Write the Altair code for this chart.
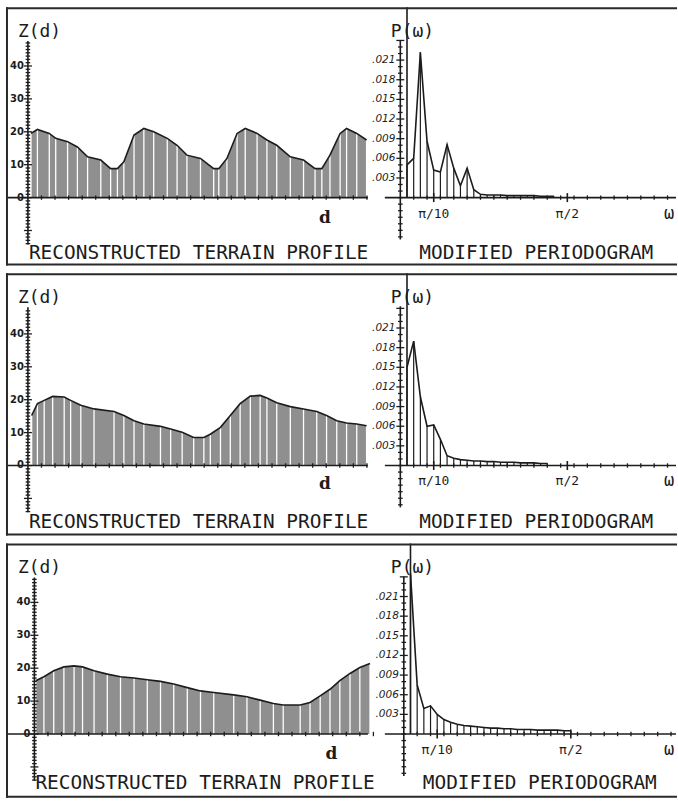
import altair as alt
import pandas as pd

# ---------------- values ----------------
# Reconstructed terrain profiles: distance d (0..100 across the plot) and height Z(d)
prof1_d = [0.9, 2.8, 6.3, 8.2, 11.7, 14.6, 17.6, 21.5, 24.4, 26.4, 28.3, 31.3, 34.2, 37.1, 41.1, 44.0, 46.9, 50.9,
           54.8, 56.3, 58.7, 61.7, 64.1, 67.6, 70.5, 73.4, 77.4, 81.3, 84.7, 86.7, 89.1, 92.1, 94.0, 97.0, 99.9]
prof1_z = [19.5, 20.7, 19.5, 18.0, 17.0, 15.4, 12.4, 11.4, 8.8, 8.8, 10.9, 19.0, 21.0, 20.0, 18.0, 15.9, 12.9, 11.9,
           8.8, 8.8, 11.9, 19.5, 21.0, 19.5, 17.5, 15.9, 12.4, 11.4, 8.8, 8.8, 12.9, 19.5, 21.0, 19.5, 17.5]

prof2_d = [1.1, 2.8, 4.8, 7.3, 10.7, 12.6, 15.6, 19.5, 25.4, 28.3, 31.3, 34.2, 39.1, 42.1, 45.5, 48.9, 51.9,
           53.8, 56.8, 59.7, 62.6, 65.6, 68.5, 70.5, 73.4, 77.4, 81.3, 85.2, 88.1, 91.1, 94.0, 97.0, 99.9]
prof2_z = [15.2, 18.8, 19.8, 21.0, 20.8, 19.8, 18.3, 17.2, 16.4, 15.2, 13.6, 12.6, 11.9, 11.1, 10.1, 8.5, 8.5,
           9.5, 11.6, 15.2, 18.8, 21.1, 21.3, 20.5, 19.1, 17.9, 17.2, 16.4, 15.2, 13.6, 12.9, 12.6, 12.1]

prof3_d = [0.4, 2.8, 5.7, 8.7, 11.7, 14.2, 17.6, 21.5, 25.4, 29.4, 33.3, 37.2, 41.1, 45.1, 49.0, 52.9, 58.8,
           62.7, 66.6, 70.5, 73.4, 78.4, 81.3, 84.3, 87.2, 90.1, 93.1, 96.0, 99.0]
prof3_z = [16.2, 17.4, 19.2, 20.4, 20.7, 20.4, 19.2, 18.2, 17.4, 17.0, 16.5, 16.0, 15.2, 14.1, 13.1, 12.6, 11.9,
           11.3, 10.3, 9.3, 8.8, 8.8, 9.6, 11.6, 13.6, 16.2, 18.4, 20.2, 21.4]

# Modified periodograms: frequency (in units of pi) and P(omega)
freq = [0.02, 0.04, 0.06, 0.08, 0.10, 0.12, 0.14, 0.16, 0.18, 0.20, 0.22, 0.24, 0.26,
        0.28, 0.30, 0.32, 0.34, 0.36, 0.38, 0.40, 0.42, 0.44, 0.46, 0.48, 0.50]
per1 = [0.0050, 0.0060, 0.0222, 0.0086, 0.0042, 0.0039, 0.0081, 0.0045, 0.0018, 0.0045, 0.0012, 0.0005,
        0.0004, 0.0004, 0.0004, 0.0003, 0.0003, 0.0003, 0.0003, 0.0003, 0.0002, 0.0002, 0.0002]
per2 = [0.0150, 0.0190, 0.0105, 0.0060, 0.0062, 0.0040, 0.0015, 0.0011, 0.0009, 0.0008, 0.0007, 0.0007,
        0.0006, 0.0006, 0.0005, 0.0005, 0.0005, 0.0004, 0.0004, 0.0004, 0.0003, 0.0003]
per3 = [0.0245, 0.0075, 0.0039, 0.0043, 0.0030, 0.0022, 0.0018, 0.0015, 0.0013, 0.0012, 0.0011, 0.0010,
        0.0009, 0.0009, 0.0008, 0.0008, 0.0007, 0.0007, 0.0007, 0.0006, 0.0006, 0.0006, 0.0006, 0.0005, 0.0005]
spike = 0.06  # off-scale low-frequency line, clipped at the box top

z_tick_values = [0, 10, 20, 30, 40]
z_tick_labels = ["0", "10", "20", "30", "40"]
p_tick_values = [0.003, 0.006, 0.009, 0.012, 0.015, 0.018, 0.021]
p_tick_labels = [".003", ".006", ".009", ".012", ".015", ".018", ".021"]
w_tick_values = [0.1, 0.5]
w_tick_labels = ["\u03c0/10", "\u03c0/2"]

left_title = "RECONSTRUCTED TERRAIN PROFILE"
right_title = "MODIFIED PERIODOGRAM"

# ---------------- layout (pixels) ----------------
W = 673
PX_D = 3.4     # px per d unit
PX_Z = 3.3     # px per Z unit
PX_W = 335.0   # px per pi
PX_P = 6567.0  # px per unit of P
INK = "#1c1c1c"
MONO = "DejaVu Sans Mono"

rows = [
    dict(H=259, Lo=27.0, Ro=400.5, b=191.0, tb=253.0, prof=(prof1_d, prof1_z), per=per1),
    dict(H=263, Lo=27.0, Ro=400.5, b=192.7, tb=255.0, prof=(prof2_d, prof2_z), per=per2),
    dict(H=255, Lo=33.5, Ro=404.0, b=191.0, tb=246.0, prof=(prof3_d, prof3_z), per=per3),
]


def X(f, s):
    return alt.X(f, type="quantitative", scale=s, axis=None)


def Y(f, s):
    return alt.Y(f, type="quantitative", scale=s, axis=None)


def segs_chart(df, xs, ys):
    return alt.Chart(df).mark_rule(color=INK).encode(
        x=X("x1", xs), x2=alt.X2("x2"), y=Y("y1", ys), y2=alt.Y2("y2"),
        strokeWidth=alt.StrokeWidth("w:Q", scale=None))


def text_chart(df, xs, ys, **kw):
    return alt.Chart(df).mark_text(color=INK, **kw).encode(x=X("x", xs), y=Y("y", ys), text="t:N")


def make_row(p):
    H, b = p["H"], p["b"]
    lo, ro = p["Lo"] - 5, p["Ro"] - 5
    xl = alt.Scale(domain=[-lo / PX_D, (W - lo) / PX_D], nice=False, zero=False)
    yl = alt.Scale(domain=[-(H - b) / PX_Z, b / PX_Z], nice=False, zero=False)
    xr = alt.Scale(domain=[-ro / PX_W, (W - ro) / PX_W], nice=False, zero=False)
    yr = alt.Scale(domain=[-(H - b) / PX_P, b / PX_P], nice=False, zero=False)
    L = lambda real: (real - p["Lo"]) / PX_D
    Zy = lambda rel: (b - rel) / PX_Z
    R = lambda real: (real - p["Ro"]) / PX_W
    Py = lambda rel: (b - rel) / PX_P

    # ---- left: terrain profile ----
    dvals, zvals = p["prof"]
    prof = pd.DataFrame({"d": dvals, "z": zvals, "z0": 0.0})
    area = alt.Chart(prof).mark_area(color="#8f8f8f", interpolate="linear").encode(
        x=X("d", xl), y=Y("z", yl), y2=alt.Y2("z0"))
    gaps = alt.Chart(prof).mark_rule(color="white", strokeWidth=1.3).encode(
        x=X("d", xl), y=Y("z0", yl), y2=alt.Y2("z"))
    outline = alt.Chart(prof).mark_line(color=INK, strokeWidth=1.6, interpolate="linear").encode(
        x=X("d", xl), y=Y("z", yl))

    segs = [(L(5), L(368), 0, 0, 1.6), (0, 0, Zy(34), Zy(b + 47), 1.6)]
    for v in range(-14, 48):
        h = 4.0 if v % 10 == 0 else 2.3
        segs.append((-h / PX_D, h / PX_D, v, v, 1.3))
    for dv in range(4, 101, 4):
        segs.append((dv, dv, -2.2 / PX_Z, 2.2 / PX_Z, 1.3))
    lsegs = segs_chart(pd.DataFrame(segs, columns=["x1", "x2", "y1", "y2", "w"]), xl, yl)

    zlab = text_chart(pd.DataFrame({"x": L(p["Lo"] - 4), "y": z_tick_values, "t": z_tick_labels}), xl, yl,
                      align="right", baseline="middle", font="DejaVu Sans", fontSize=10, fontWeight="bold")
    ltxt = [
        text_chart(pd.DataFrame({"x": [L(17)], "y": [Zy(30)], "t": ["Z(d)"]}), xl, yl,
                   align="left", baseline="alphabetic", font=MONO, fontSize=18),
        text_chart(pd.DataFrame({"x": [L(p["Lo"] + 298)], "y": [Zy(211)], "t": ["d"]}), xl, yl,
                   align="center", baseline="middle", font="DejaVu Serif", fontSize=17, fontWeight="bold"),
        text_chart(pd.DataFrame({"x": [L(p["Lo"] + 1)], "y": [Zy(p["tb"])], "t": [left_title]}), xl, yl,
                   align="left", baseline="alphabetic", font=MONO, fontSize=19.5),
    ]
    left = alt.layer(area, gaps, outline, lsegs, zlab, *ltxt)

    # ---- right: periodogram ----
    per = pd.DataFrame({"w": freq[:len(p["per"])], "P": p["per"], "P0": 0.0})
    bars = alt.Chart(per).mark_rule(color=INK, strokeWidth=1.2).encode(
        x=X("w", xr), y=Y("P0", yr), y2=alt.Y2("P"))
    curve = alt.Chart(per).mark_line(color=INK, strokeWidth=1.6, interpolate="linear").encode(
        x=X("w", xr), y=Y("P", yr))
    sp = alt.Chart(pd.DataFrame({"w": [freq[0]], "P0": [0.0], "P": [spike]})).mark_rule(
        color=INK, strokeWidth=1.6, clip=True).encode(x=X("w", xr), y=Y("P0", yr), y2=alt.Y2("P"))

    rs = [(R(385), R(677), 0, 0, 1.6), (0, 0, Py(33), Py(b + 42), 1.6)]
    for i in range(-6, 25):
        v = i / 1000.0
        h = 4.0 if i % 3 == 0 and i > 0 else 2.3
        rs.append((-h / PX_W, h / PX_W, v, v, 1.3))
    for j in range(1, 21):
        wv = j * 0.04
        rs.append((wv, wv, -2.2 / PX_P, 2.2 / PX_P, 1.3))
    for wv in w_tick_values:
        rs.append((wv, wv, -4.5 / PX_P, 4.5 / PX_P, 1.6))
    rsegs = segs_chart(pd.DataFrame(rs, columns=["x1", "x2", "y1", "y2", "w"]), xr, yr)

    plab = text_chart(pd.DataFrame({"x": R(p["Ro"] - 5), "y": p_tick_values, "t": p_tick_labels}), xr, yr,
                      align="right", baseline="middle", font="DejaVu Sans", fontSize=10.5, fontStyle="italic")
    wlab = text_chart(pd.DataFrame({"x": w_tick_values, "y": Py(b + 16), "t": w_tick_labels}), xr, yr,
                      align="center", baseline="middle", font=MONO, fontSize=13)
    rtxt = [
        text_chart(pd.DataFrame({"x": [R(391)], "y": [Py(30)], "t": ["P(\u03c9)"]}), xr, yr,
                   align="left", baseline="alphabetic", font=MONO, fontSize=18),
        text_chart(pd.DataFrame({"x": [R(670)], "y": [Py(b + 16)], "t": ["\u03c9"]}), xr, yr,
                   align="center", baseline="middle", font=MONO, fontSize=17),
        text_chart(pd.DataFrame({"x": [R(p["Ro"] + 19)], "y": [Py(p["tb"])], "t": [right_title]}), xr, yr,
                   align="left", baseline="alphabetic", font=MONO, fontSize=19.5),
    ]
    right = alt.layer(bars, curve, sp, rsegs, plab, wlab, *rtxt)

    # ---- box around the row (right edge is cut off in the original) ----
    border = [
        alt.Chart().mark_rule(color="#2a2a2a", strokeWidth=2).encode(x=alt.value(0), x2=alt.value(W), y=alt.value(1)),
        alt.Chart().mark_rule(color="#2a2a2a", strokeWidth=2).encode(x=alt.value(0), x2=alt.value(W), y=alt.value(H - 1)),
        alt.Chart().mark_rule(color="#2a2a2a", strokeWidth=2).encode(x=alt.value(1), y=alt.value(0), y2=alt.value(H)),
    ]
    return alt.layer(left, right, *border, data=pd.DataFrame({"a": [0]})).resolve_scale(
        x="independent", y="independent").properties(width=W, height=H)


chart = alt.vconcat(*[make_row(p) for p in rows], spacing=6).properties(
    padding={"left": 5, "top": 5, "right": 0, "bottom": 0},
    background="white",
).configure_view(stroke=None)

chart.save("out.html", embed_options={"renderer": "svg", "actions": False})
